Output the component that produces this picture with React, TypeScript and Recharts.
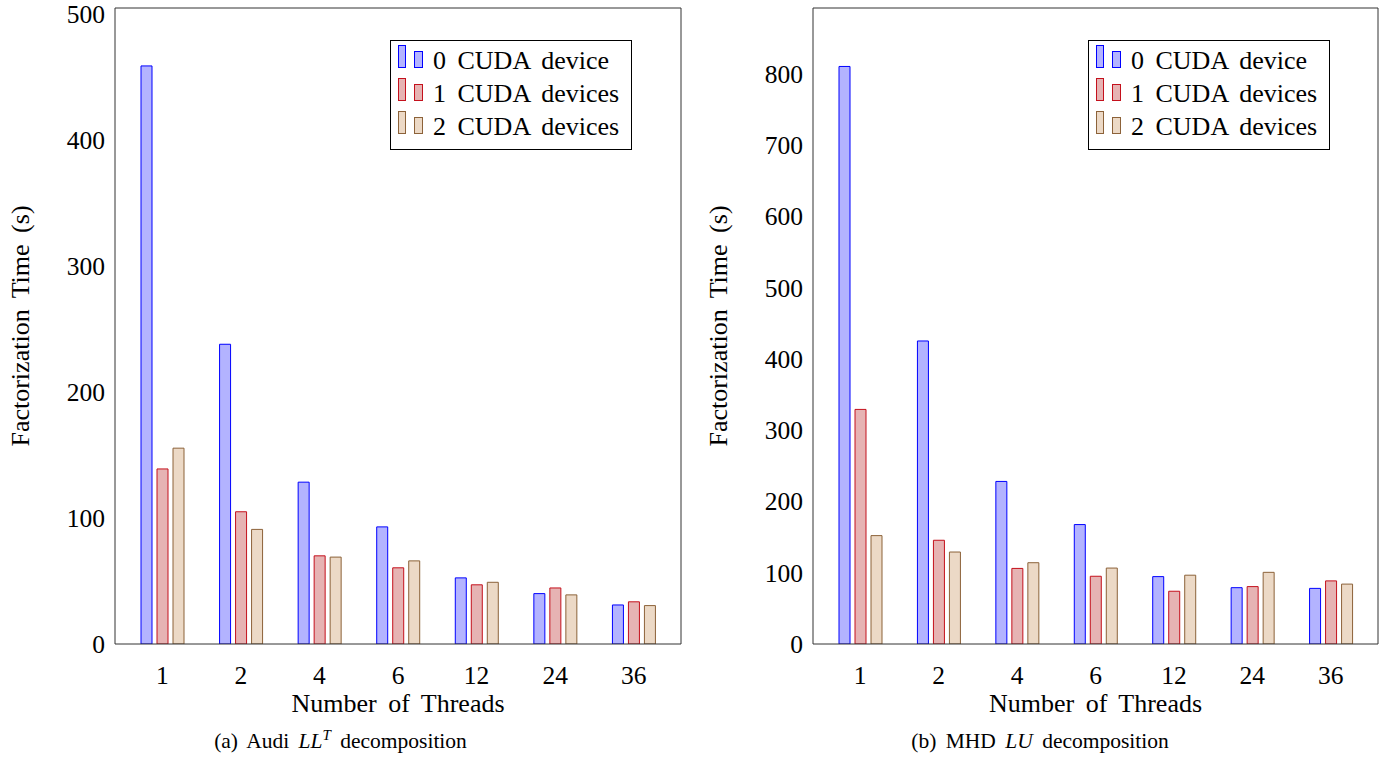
import { BarChart, Bar, XAxis, YAxis, Legend } from "recharts";

// thread counts on the category axis
const threads = ["1", "2", "4", "6", "12", "24", "36"];

// (a) Audi LL^T factorization time in seconds
const audiZeroGpu = [459, 238, 128.5, 93, 52.5, 40, 31];
const audiOneGpu = [139, 105, 70, 60.5, 47, 44.5, 33.5];
const audiTwoGpu = [155.5, 91, 69, 66, 49, 39, 30.5];

// (b) MHD LU factorization time in seconds
const mhdZeroGpu = [810, 425, 228, 167.5, 94.5, 79, 78];
const mhdOneGpu = [329, 145.5, 106, 95, 74, 80.5, 88.5];
const mhdTwoGpu = [152, 129, 114, 106.5, 96.5, 100.5, 84];

const audiTicks = [0, 100, 200, 300, 400, 500];
const mhdTicks = [0, 100, 200, 300, 400, 500, 600, 700, 800];
const audiMax = 505;
const mhdMax = 892;

const seriesNames = ["0 CUDA device", "1 CUDA devices", "2 CUDA devices"];

const FONT = "Liberation Serif, serif";
const FRAME = "#333";
const TICK = "#8a8a8a";

const SERIES = [
  { key: "d0", name: seriesNames[0], fill: "#b3b3ff", stroke: "#0000ff" },
  { key: "d1", name: seriesNames[1], fill: "#e6b3b3", stroke: "#c4101c" },
  { key: "d2", name: seriesNames[2], fill: "#ecd9c6", stroke: "#8c6239" },
];

const buildRows = (a: number[], b: number[], c: number[]) =>
  threads.map((n, i) => ({ n, d0: a[i], d1: b[i], d2: c[i] }));

const audiRows = buildRows(audiZeroGpu, audiOneGpu, audiTwoGpu);
const mhdRows = buildRows(mhdZeroGpu, mhdOneGpu, mhdTwoGpu);

function LegendBox() {
  return (
    <div
      style={{
        width: 242,
        boxSizing: "border-box",
        border: "1px solid #000",
        background: "#fff",
        padding: "4px 0 5px 7px",
        fontFamily: FONT,
        fontSize: 26,
        wordSpacing: 5,
        color: "#000",
      }}
    >
      {SERIES.map((s) => (
        <div key={s.key} style={{ display: "flex", height: 33, alignItems: "flex-start" }}>
          <svg width={32} height={24} style={{ display: "block" }}>
            <rect x={0.5} y={0.5} width={7} height={22} fill={s.fill} stroke={s.stroke} />
            <rect x={16.5} y={6.5} width={8} height={16} fill={s.fill} stroke={s.stroke} />
          </svg>
          <span style={{ marginLeft: 3, lineHeight: "33px", marginTop: -1 }}>{s.name}</span>
        </div>
      ))}
    </div>
  );
}

type PanelProps = {
  rows: typeof audiRows;
  ticks: number[];
  max: number;
  left: number;
  width: number;
  axisWidth: number;
  marginRight: number;
  legendLeft: number;
  titleX: number;
};

function Panel({ rows, ticks, max, left, width, axisWidth, marginRight, legendLeft, titleX }: PanelProps) {
  const tickFont = { fill: "#000", fontSize: 25.5, fontFamily: FONT };
  return (
    <div style={{ position: "absolute", left, top: 0 }}>
      <BarChart
        width={width}
        height={720}
        data={rows}
        margin={{ top: 8, right: marginRight, bottom: 16, left: 0 }}
        barSize={11}
        barGap={5}
      >
        <XAxis
          xAxisId="x"
          dataKey="n"
          type="category"
          interval={0}
          padding={{ left: 8, right: 8 }}
          height={60}
          tickLine={false}
          tickSize={0}
          tickMargin={22}
          axisLine={{ stroke: FRAME }}
          tick={tickFont}
          label={{
            content: ({ viewBox }: any) => (
              <text
                x={viewBox.x + viewBox.width / 2}
                y={viewBox.y + 68}
                textAnchor="middle"
                fontFamily={FONT}
                fontSize={26}
                wordSpacing={5}
                fill="#000"
              >
                Number of Threads
              </text>
            ),
          }}
        />
        <XAxis xAxisId="top" dataKey="n" orientation="top" mirror tick={false} tickLine={false} axisLine={{ stroke: FRAME }} />
        <YAxis
          yAxisId="y"
          type="number"
          domain={[0, max]}
          ticks={ticks}
          interval={0}
          allowDataOverflow
          width={axisWidth}
          tickLine={false}
          tickSize={0}
          tickMargin={10}
          axisLine={{ stroke: FRAME }}
          tick={tickFont}
          label={{
            content: ({ viewBox }: any) => {
              const cx = viewBox.x + titleX;
              const cy = viewBox.y + viewBox.height / 2;
              return (
                <text
                  x={cx}
                  y={cy}
                  transform={`rotate(-90 ${cx} ${cy})`}
                  textAnchor="middle"
                  dominantBaseline="central"
                  fontFamily={FONT}
                  fontSize={26}
                  wordSpacing={5}
                  fill="#000"
                >
                  Factorization Time (s)
                </text>
              );
            },
          }}
        />
        <YAxis
          yAxisId="yl"
          type="number"
          domain={[0, max]}
          ticks={ticks}
          interval={0}
          allowDataOverflow
          mirror
          width={10}
          tick={false}
          tickSize={8}
          tickLine={{ stroke: TICK }}
          axisLine={false}
        />
        <YAxis
          yAxisId="yr"
          orientation="right"
          type="number"
          domain={[0, max]}
          ticks={ticks}
          interval={0}
          allowDataOverflow
          mirror
          width={10}
          tick={false}
          tickSize={8}
          tickLine={{ stroke: TICK }}
          axisLine={{ stroke: FRAME }}
        />
        <Legend
          layout="vertical"
          align="center"
          verticalAlign="middle"
          wrapperStyle={{ top: 40, left: legendLeft, right: "auto", bottom: "auto", width: "auto", height: "auto" }}
          content={() => <LegendBox />}
        />
        {SERIES.map((s) => (
          <Bar
            key={s.key}
            xAxisId="x"
            yAxisId="y"
            dataKey={s.key}
            name={s.name}
            fill={s.fill}
            stroke={s.stroke}
            strokeWidth={1}
            isAnimationActive={false}
          />
        ))}
      </BarChart>
    </div>
  );
}

const captionStyle = {
  position: "absolute" as const,
  top: 731,
  textAlign: "center" as const,
  fontFamily: FONT,
  fontSize: 21.5,
  lineHeight: "20px",
  wordSpacing: 4,
  color: "#000",
};

export default function App() {
  return (
    <div style={{ position: "absolute", left: 0, top: 0, width: 1383, height: 757, background: "#fff", fontFamily: FONT }}>
      <Panel
        rows={audiRows}
        ticks={audiTicks}
        max={audiMax}
        left={0}
        width={700}
        axisWidth={115}
        marginRight={19}
        legendLeft={390}
        titleX={20}
      />
      <Panel
        rows={mhdRows}
        ticks={mhdTicks}
        max={mhdMax}
        left={700}
        width={683}
        axisWidth={113}
        marginRight={5}
        legendLeft={388}
        titleX={18}
      />
      <div style={{ ...captionStyle, left: 0, width: 681 }}>
        (a) Audi <i>LL</i>
        <sup style={{ fontSize: 15, fontStyle: "italic", verticalAlign: 8, lineHeight: 0 }}>T</sup> decomposition
      </div>
      <div style={{ ...captionStyle, left: 700, width: 680 }}>
        (b) MHD <i>LU</i> decomposition
      </div>
    </div>
  );
}
